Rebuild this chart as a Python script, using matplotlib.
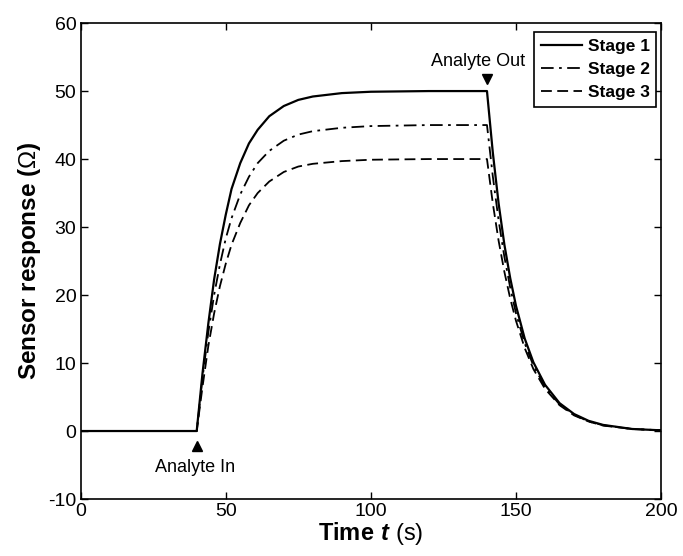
import matplotlib
matplotlib.use("Agg")
import matplotlib.pyplot as plt

plt.rcParams['font.family'] = ['Liberation Sans', 'DejaVu Sans']
plt.rcParams['axes.unicode_minus'] = False
plt.rcParams['mathtext.fontset'] = 'custom'
plt.rcParams['mathtext.rm'] = 'Liberation Sans'
plt.rcParams['mathtext.bf'] = 'Liberation Sans:bold'
plt.rcParams['mathtext.bfit'] = 'Liberation Sans:italic:bold'

# time points (s)
t = [0, 40, 42, 44, 46, 48, 50, 52, 55, 58, 61, 65, 70, 75, 80, 90, 100, 120, 140,
     142, 144, 146, 148, 150, 153, 156, 160, 165, 170, 175, 180, 190, 200]

stage1 = [0, 0, 8.5, 15.8, 22.3, 27.5, 31.8, 35.6, 39.4, 42.3, 44.3, 46.3, 47.8, 48.7, 49.2, 49.7, 49.9, 50.0, 50.0,
          41.0, 33.5, 27.4, 22.5, 18.4, 13.6, 10.1, 6.8, 4.1, 2.5, 1.5, 0.9, 0.3, 0.1]
stage2 = [0, 0, 7.8, 14.5, 20.0, 24.5, 28.3, 31.3, 34.8, 37.4, 39.4, 41.2, 42.7, 43.6, 44.1, 44.6, 44.85, 45.0, 45.0,
          37.5, 31.0, 25.6, 21.1, 17.3, 12.9, 9.6, 6.5, 3.9, 2.4, 1.4, 0.85, 0.3, 0.1]
stage3 = [0, 0, 6.5, 12.5, 17.3, 21.3, 24.6, 27.4, 30.6, 33.2, 35.0, 36.7, 38.1, 38.9, 39.3, 39.7, 39.9, 40.0, 40.0,
          33.5, 28.0, 23.4, 19.5, 16.2, 12.2, 9.1, 6.2, 3.8, 2.3, 1.4, 0.8, 0.3, 0.1]

labels = ['Stage 1', 'Stage 2', 'Stage 3']
t_in, t_out = 40, 140

fig = plt.figure(figsize=(6.83, 5.56), dpi=100)
ax = fig.add_axes([0.118, 0.1025, 0.850, 0.856])

ax.plot(t, stage1, color='black', lw=1.6, ls='-', label=labels[0])
ax.plot(t, stage2, color='black', lw=1.3, ls=(0, (7, 3, 1.5, 3)), label=labels[1])
ax.plot(t, stage3, color='black', lw=1.3, ls=(0, (6, 3)), label=labels[2])

# markers for analyte in/out
ax.plot([t_in], [-2.2], marker='^', color='black', ms=7, ls='none')
ax.text(t_in - 0.7, -5.4, 'Analyte In', ha='center', va='center', fontsize=13)
ax.plot([t_out], [51.8], marker='v', color='black', ms=7, ls='none')
ax.text(t_out - 3, 54.4, 'Analyte Out', ha='center', va='center', fontsize=13)

ax.set_xlim(0, 200)
ax.set_ylim(-10, 60)
ax.set_xticks([0, 50, 100, 150, 200])
ax.set_yticks(range(-10, 61, 10))
ax.tick_params(direction='in', top=True, right=True, length=5, width=1,
               labelsize=14, pad=3)
for s in ax.spines.values():
    s.set_linewidth(1.2)

ax.set_xlabel(r'$\mathbf{Time}\ \mathbfit{t}$ (s)', fontsize=17, labelpad=0)
ax.set_ylabel(r'Sensor response ($\Omega$)', fontsize=17.5, fontweight='bold', labelpad=4)

leg = ax.legend(loc='upper right', bbox_to_anchor=(0.992, 0.981), borderaxespad=0,
                fancybox=False, edgecolor='black', framealpha=1,
                prop={'weight': 'bold', 'size': 12.5}, handlelength=2.4,
                handletextpad=0.3, labelspacing=0.45, borderpad=0.4)
leg.get_frame().set_linewidth(1.2)

fig.savefig('out.png', dpi=100)
